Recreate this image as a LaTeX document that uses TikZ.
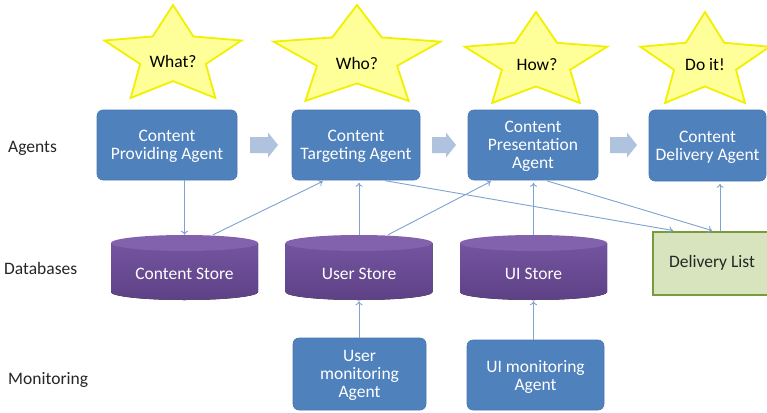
\documentclass[tikz,border=0pt]{standalone}
\usepackage{fontspec}
\setmainfont{Carlito}
\usetikzlibrary{arrows.meta,calc}
\definecolor{boxblue}{HTML}{4F81BD}
\definecolor{boxedge}{HTML}{4877B0}
\definecolor{linkblue}{HTML}{7EA3D2}
\definecolor{blockarr}{HTML}{AFC3DF}
\definecolor{starfill}{HTML}{FFFF99}
\definecolor{staredge}{HTML}{F0F000}
\definecolor{purtop}{HTML}{8262AD}
\definecolor{purbody}{HTML}{7454A0}
\definecolor{purbot}{HTML}{5D4185}
\definecolor{dlfill}{HTML}{D7E4BD}
\definecolor{dledge}{HTML}{7A9A40}
\definecolor{labeltext}{HTML}{262626}
\newcommand\mystarshape[4]{%
  \begin{scope}[shift={(#1,#2)}, xscale=#3, yscale=#4]
    \draw[starsty] (-90:1) -- (-54:0.48) -- (-18:1) -- (18:0.48) -- (54:1) -- (90:0.48) -- (126:1) -- (162:0.48) -- (198:1) -- (234:0.48) -- cycle;
  \end{scope}}
\newcommand\mycylshape[1]{%
  \fill[top color=purbody, bottom color=purbot] ({#1-73.5},243) -- ({#1-73.5},292) arc[start angle=180, end angle=0, x radius=73.5, y radius=8] -- ({#1+73.5},243) -- cycle;
  \fill[purtop] (#1,243) ellipse[x radius=73.5, y radius=8];}
\newcommand\myblockarrow[2]{%
  \fill[blockarr] (#1,137) -- ({#2-10},137) -- ({#2-10},132.5) -- (#2,145) -- ({#2-10},157.5) -- ({#2-10},153) -- (#1,153) -- cycle;}
\begin{document}
\begin{tikzpicture}[x=1pt,y=-1pt,
  font=\fontsize{17.5}{18}\selectfont,
  agent/.style={rectangle, rounded corners=6pt, fill=boxblue, draw=boxedge, line width=0.6pt, text=white, align=center, inner sep=0pt, text depth=0pt},
  starsty/.style={fill=starfill, draw=staredge, line width=1.8pt, line join=miter},
  startext/.style={text=black},
  link/.style={draw=linkblue, line width=0.9pt, -{To[length=4pt,width=7pt]}},
  storebox/.style={rectangle, inner sep=0pt, minimum width=147pt, minimum height=65pt},
  storelbl/.style={text=white, yshift=-6pt},
  rowlabel/.style={anchor=west, text=labeltext, inner sep=0pt},
]
\useasboundingbox (0,0) rectangle (767,412);
\fill[white] (0,0) rectangle (767,412);

% stars
\mystarshape{173}{56.4}{72}{51.4}
\mystarshape{357}{58}{87.8}{53}
\mystarshape{536}{62.3}{74.7}{50.3}
\mystarshape{705}{62.3}{68}{50.3}
\node[startext] (what) at (173,61) {What?};
\node[startext] (who) at (357,63) {Who?};
\node[startext] (how) at (537,65) {How?};
\node[startext] (doit) at (705,65) {Do it!};

% row labels
\node[rowlabel] (lagents) at (8,148) {Agents};
\node[rowlabel] (ldb) at (4,268) {Databases};
\node[rowlabel] (lmon) at (8,380) {Monitoring};

% agents
\node[agent, minimum width=140pt, minimum height=70pt] (cpa) at (167,145) {Content\\Providing Agent};
\node[agent, minimum width=128pt, minimum height=70pt] (cta) at (356,145) {Content\\Targeting Agent};
\node[agent, minimum width=130pt, minimum height=70pt] (cpr) at (533,145) {Content\\Presentation\\Agent};
\node[agent, minimum width=117pt, minimum height=71pt] (cda) at (707.5,145.5) {Content\\Delivery Agent};

% block arrows
\myblockarrow{250}{278}
\myblockarrow{432}{456}
\myblockarrow{610}{637}

% databases
\mycylshape{184.5}
\mycylshape{359}
\mycylshape{533.5}
\node[storebox, label={[storelbl]center:Content Store}] (cs) at (184.5,267.5) {};
\node[storebox, label={[storelbl]center:User Store}] (us) at (359,267.5) {};
\node[storebox, label={[storelbl]center:UI Store}] (uis) at (533.5,267.5) {};
\node[rectangle, fill=dlfill, draw=dledge, line width=2pt, minimum width=118pt, minimum height=63pt, inner sep=0pt, text=labeltext] (dl) at (712,263) {Delivery List};

% monitoring agents
\node[agent, minimum width=133pt, minimum height=72pt] (uma) at (359.5,374) {User\\monitoring\\Agent};
\node[agent, minimum width=137pt, minimum height=70pt] (uima) at (535.5,375) {UI monitoring\\Agent};

% connectors
\draw[link] (cpa.south -| cs.north) -- (cs.north);
\draw[link, shorten >=2.5pt] ([xshift=28.5pt]cs.north) -- ([xshift=-31pt]cta.south);
\draw[link, shorten >=2.5pt] (us.north) -- (cta.south -| us.north);
\draw[link, shorten >=2.5pt] ([xshift=29pt]us.north) -- ([xshift=-40pt]cpr.south);
\draw[link, shorten <=2pt] ([xshift=27pt]cta.south) -- ([xshift=-39pt]dl.north);
\draw[link, shorten <=2pt] ([xshift=12pt]cpr.south) -- (dl.north);
\draw[link, shorten >=2.5pt] (uis.north) -- (cpr.south -| uis.north);
\draw[link, shorten >=2.5pt] ([xshift=8pt]dl.north) -- ([xshift=8pt]dl.north |- cda.south);
\draw[link, shorten >=1pt] (uma.north -| us.south) -- (us.south);
\draw[link, shorten >=1pt] (uima.north -| uis.south) -- (uis.south);
\end{tikzpicture}
\end{document}
